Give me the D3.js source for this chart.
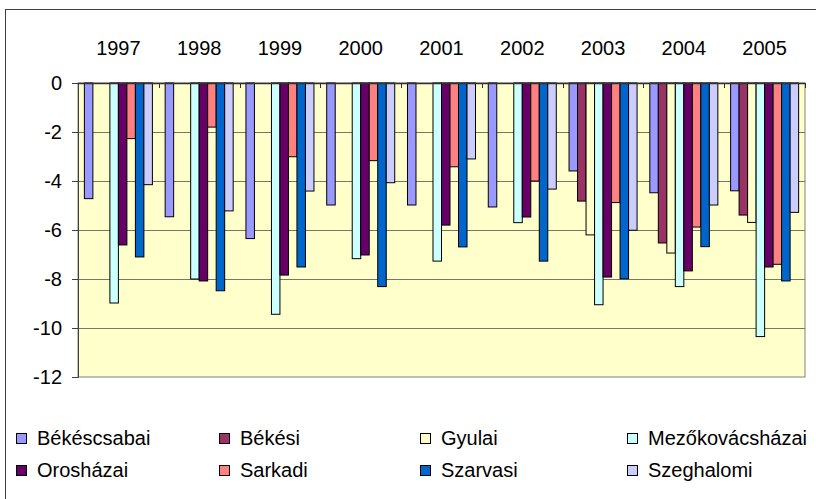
<!DOCTYPE html>
<html>
<head>
<meta charset="utf-8">
<script src="https://cdn.jsdelivr.net/npm/d3@7"></script>
<style>
  html, body { margin: 0; padding: 0; background: #fff; }
  svg { display: block; font-family: "Liberation Sans", Arial, sans-serif; }
</style>
</head>
<body>
<svg id="chart" width="816" height="499"></svg>
<script>
const years = ["1997","1998","1999","2000","2001","2002","2003","2004","2005"];
const seriesNames = ["Békéscsabai","Békési","Gyulai","Mezőkovácsházai","Orosházai","Sarkadi","Szarvasi","Szeghalomi"];
const seriesColors = ["#9999FF","#993366","#FFFFCC","#CCFFFF","#660066","#FF8080","#0066CC","#CCCCFF"];
// values per series, one per year (null = no bar)
const bekescsabai     = [-4.72, -5.46, -6.35, -4.98, -4.98, -5.06, -3.59, -4.48, -4.40];
const bekesi          = [null, null, null, null, null, null, -4.82, -6.53, -5.39];
const gyulai          = [null, null, null, null, null, null, -6.20, -6.94, -5.69];
const mezokovacshazai = [-8.98, -8.00, -9.44, -7.17, -7.27, -5.70, -9.05, -8.31, -10.35];
const oroshazai       = [-6.61, -8.08, -7.84, -7.02, -5.80, -5.47, -7.92, -7.67, -7.51];
const sarkadi         = [-2.27, -1.80, -3.01, -3.17, -3.42, -4.00, -4.88, -5.88, -7.40];
const szarvasi        = [-7.10, -8.48, -7.51, -8.31, -6.69, -7.27, -7.99, -6.68, -8.08];
const szeghalomi      = [-4.15, -5.22, -4.41, -4.07, -3.10, -4.33, -6.01, -4.98, -5.28];
const yTicks = [0, -2, -4, -6, -8, -10, -12];

const seriesValues = [bekescsabai, bekesi, gyulai, mezokovacshazai, oroshazai, sarkadi, szarvasi, szeghalomi];

const svg = d3.select("#chart");
const pLeft = 78, pRight = 805, pTop = 83, pBottom = 377;

// outer chart border (cut off at right/bottom as in reference)
svg.append("rect").attr("x", 5.5).attr("y", 9.5).attr("width", 830).attr("height", 520)
  .attr("fill", "none").attr("stroke", "#404040").attr("stroke-width", 1);

const x0 = d3.scaleBand().domain(years).range([pLeft, pRight]).padding(0);
const x1 = d3.scaleBand().domain(seriesNames).range([0, x0.bandwidth()]).paddingInner(0).paddingOuter(0.75);
const y = d3.scaleLinear().domain([-12, 0]).range([pBottom, pTop]);

// plot background
svg.append("rect").attr("x", pLeft).attr("y", pTop).attr("width", pRight - pLeft).attr("height", pBottom - pTop)
  .attr("fill", "#FFFFCC").attr("stroke", "#808080").attr("stroke-width", 1);

// gridlines
svg.append("g").selectAll("line").data(yTicks.filter(d => d !== 0 && d !== -12)).join("line")
  .attr("x1", pLeft).attr("x2", pRight)
  .attr("y1", d => Math.round(y(d)) + 0.5).attr("y2", d => Math.round(y(d)) + 0.5)
  .attr("stroke", "#777766").attr("stroke-width", 1);

// bars
const groups = svg.append("g").selectAll("g").data(years).join("g")
  .attr("transform", d => `translate(${x0(d)},0)`);
groups.selectAll("rect")
  .data((yr, i) => seriesNames.map((s, j) => ({ s, j, v: seriesValues[j][i] })).filter(d => d.v !== null))
  .join("rect")
  .attr("x", d => x1(d.s))
  .attr("y", y(0))
  .attr("width", x1.bandwidth())
  .attr("height", d => y(d.v) - y(0))
  .attr("fill", d => seriesColors[d.j])
  .attr("stroke", "#000").attr("stroke-width", 1);

// y axis
const yAxis = d3.axisLeft(y).tickValues(yTicks).tickSize(6).tickPadding(10).tickFormat(d => String(d));
const ya = svg.append("g").attr("transform", `translate(${pLeft},0)`).call(yAxis);
ya.select(".domain").attr("stroke", "#404040");
ya.selectAll(".tick line").attr("stroke", "#404040");
ya.selectAll(".tick text").attr("font-size", 20).attr("fill", "#000")
  .attr("font-family", "'Liberation Sans', Arial, sans-serif");

// x axis at 0 line (top), labels above, ticks at boundaries pointing into plot
const xAxisG = svg.append("g");
xAxisG.append("line").attr("x1", pLeft).attr("x2", pRight).attr("y1", pTop + 0.5).attr("y2", pTop + 0.5)
  .attr("stroke", "#303030").attr("stroke-width", 1.5);
const boundaries = years.map(d => x0(d)).concat([pRight]);
xAxisG.selectAll("line.tk").data(boundaries.slice(1)).join("line").attr("class", "tk")
  .attr("x1", d => Math.round(d) + 0.5).attr("x2", d => Math.round(d) + 0.5)
  .attr("y1", pTop).attr("y2", pTop + 5).attr("stroke", "#303030");
xAxisG.selectAll("text").data(years).join("text")
  .attr("x", d => x0(d) + x0.bandwidth() / 2).attr("y", 55)
  .attr("text-anchor", "middle").attr("font-size", 20).attr("fill", "#000")
  .text(d => d);

// legend
const legendCols = [16, 219, 420, 627];
const legendRows = [438, 470];
const leg = svg.append("g").selectAll("g").data(seriesNames).join("g")
  .attr("transform", (d, i) => `translate(${legendCols[i % 4]},${legendRows[Math.floor(i / 4)]})`);
leg.append("rect").attr("x", 0.5).attr("y", -4.5).attr("width", 10).attr("height", 10)
  .attr("fill", (d, i) => seriesColors[i]).attr("stroke", "#000").attr("stroke-width", 1);
leg.append("text").attr("x", 21).attr("y", 7).attr("font-size", 20).attr("fill", "#000").text(d => d);
</script>
</body>
</html>
